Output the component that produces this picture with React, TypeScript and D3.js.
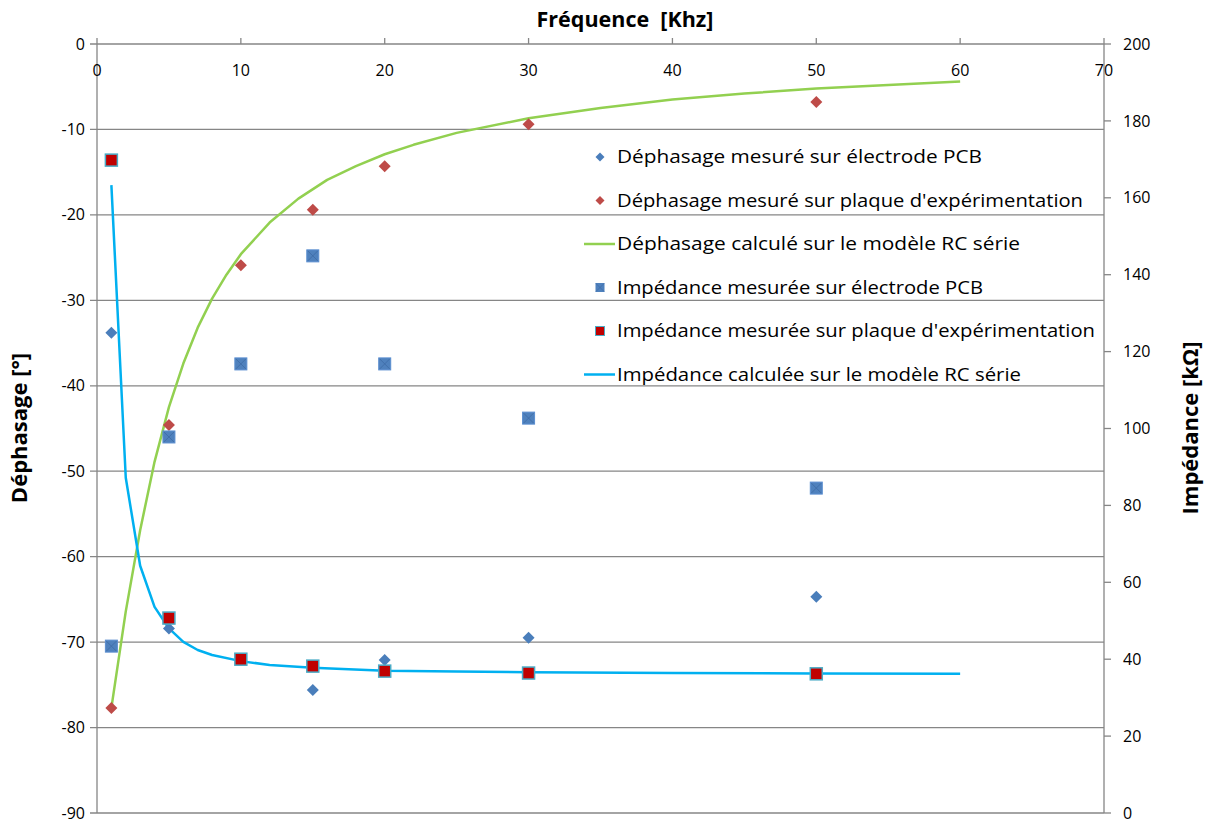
import React from 'react'
import * as d3 from 'd3'

// fréquences mesurées (kHz)
const freqMesure = [1, 5, 10, 15, 20, 30, 50]
const phasePCB = [-33.8, -68.4, -72.0, -75.6, -72.1, -69.5, -64.7]
const phasePlaque = [-77.7, -44.6, -25.9, -19.4, -14.3, -9.4, -6.8]
const impPCB = [43.4, 97.8, 116.8, 144.9, 116.8, 102.7, 84.5]
const impPlaque = [169.8, 50.7, 40.0, 38.2, 36.9, 36.4, 36.2]

// modèle RC série
const freqPhaseModele = [1, 2, 3, 4, 5, 6, 7, 8, 9, 10, 12, 14, 16, 18, 20, 22, 25, 30, 35, 40, 45, 50, 55, 60]
const phaseModele = [-77.7, -66.4, -56.9, -48.9, -42.5, -37.4, -33.2, -29.8, -27.0, -24.6, -20.9, -18.1, -15.9, -14.3, -12.9, -11.8, -10.4, -8.7, -7.5, -6.5, -5.8, -5.2, -4.8, -4.4]
const freqImpModele = [1, 2, 3, 4, 5, 6, 7, 8, 10, 12, 15, 20, 25, 30, 40, 50, 60]
const impModele = [163.3, 87.2, 64.3, 53.6, 48.0, 44.5, 42.4, 41.1, 39.5, 38.5, 37.8, 37.0, 36.8, 36.6, 36.4, 36.3, 36.2]

const xTicks = [0, 10, 20, 30, 40, 50, 60, 70]
const yLeftTicks = [0, -10, -20, -30, -40, -50, -60, -70, -80, -90]
const yRightTicks = [0, 20, 40, 60, 80, 100, 120, 140, 160, 180, 200]

const legendLabels = [
  "Déphasage mesuré sur électrode PCB",
  "Déphasage mesuré sur plaque d'expérimentation",
  "Déphasage calculé sur le modèle RC série",
  "Impédance mesurée sur électrode PCB",
  "Impédance mesurée sur plaque d'expérimentation",
  "Impédance calculée sur le modèle RC série",
]

const W = 1210, H = 823
const m = {top: 44, right: 106, bottom: 10, left: 97}
const font = "'Open Sans', sans-serif"
const grid = '#868686'

const blue = '#4A7EBB', red = '#BE4B48', green = '#92D050', cyan = '#00B0F0'

const Diamond = ({x, y, c}: {x: number, y: number, c: string}) =>
  <path d={`M${x},${y - 6}L${x + 6},${y}L${x},${y + 6}L${x - 6},${y}Z`} fill={c} />

const SquarePCB = ({x, y}: {x: number, y: number}) => <g>
  <rect x={x - 6} y={y - 6} width={12} height={12} fill="#4F81BD" stroke="#5B8ED0" strokeWidth={1} />
  <path d={`M${x - 5},${y - 5}L${x + 5},${y + 5}M${x + 5},${y - 5}L${x - 5},${y + 5}`} stroke="#3E6BA6" strokeWidth={0.8} />
</g>

const SquarePlaque = ({x, y}: {x: number, y: number}) =>
  <rect x={x - 6} y={y - 6} width={12} height={12} fill="#C00000" stroke="#4BACC6" strokeWidth={1.5} />

const App = () => {
  const x = d3.scaleLinear().domain([0, 70]).range([m.left, W - m.right])
  const yL = d3.scaleLinear().domain([-90, 0]).range([H - m.bottom, m.top])
  const yR = d3.scaleLinear().domain([0, 200]).range([H - m.bottom, m.top])

  const phaseLine = d3.line<number>().x((d, i) => x(freqPhaseModele[i])).y(d => yL(d))
  const impLine = d3.line<number>().x((d, i) => x(freqImpModele[i])).y(d => yR(d))

  const x0 = x(0), x1 = x(70)
  const legX = 600, legY0 = 157, legDy = 43.5

  return (
    <div style={{position: 'absolute', left: 0, top: 0}}>
      <svg width={W} height={H} style={{display: 'block', background: '#fff'}} fontFamily={font}>
        {/* grille horizontale */}
        {yLeftTicks.map(t => <g key={t}>
          <line x1={x0 - 7} x2={x1} y1={yL(t)} y2={yL(t)} stroke={grid} strokeWidth={1.3} />
          <text x={x0 - 12} y={yL(t)} dy="0.35em" textAnchor="end" fontSize={16}>{t}</text>
        </g>)}
        {/* axe gauche */}
        <line x1={x0} x2={x0} y1={yL(0)} y2={yL(-90)} stroke={grid} strokeWidth={1.3} />
        {/* axe droit */}
        <line x1={x1} x2={x1} y1={yR(200)} y2={yR(0)} stroke={grid} strokeWidth={1.3} />
        {yRightTicks.map(t => <g key={t}>
          <line x1={x1} x2={x1 + 7} y1={yR(t)} y2={yR(t)} stroke={grid} strokeWidth={1.3} />
          <text x={x1 + 19} y={yR(t)} dy="0.35em" textAnchor="start" fontSize={16}>{t}</text>
        </g>)}
        {/* axe x en haut */}
        {xTicks.map(t => <g key={t}>
          <line x1={x(t)} x2={x(t)} y1={m.top - 6} y2={m.top} stroke={grid} strokeWidth={1.3} />
          <text x={x(t)} y={70} dy="0.35em" textAnchor="middle" fontSize={16}>{t}</text>
        </g>)}

        {/* titres */}
        <text x={625} y={19} dy="0.35em" textAnchor="middle" fontSize={21.5} fontWeight="bold" style={{whiteSpace: 'pre'}}>Fréquence  [Khz]</text>
        <text transform={`translate(19,428) rotate(-90)`} dy="0.35em" textAnchor="middle" fontSize={22} fontWeight="bold">Déphasage [°]</text>
        <text transform={`translate(1190,428) rotate(-90)`} dy="0.35em" textAnchor="middle" fontSize={22} fontWeight="bold">Impédance [kΩ]</text>

        {/* courbes du modèle */}
        <path d={phaseLine(phaseModele) || ''} fill="none" stroke={green} strokeWidth={2.5} strokeLinejoin="round" />
        <path d={impLine(impModele) || ''} fill="none" stroke={cyan} strokeWidth={2.5} strokeLinejoin="round" />

        {/* mesures */}
        {phasePCB.map((v, i) => <Diamond key={'pp' + i} x={x(freqMesure[i])} y={yL(v)} c={blue} />)}
        {phasePlaque.map((v, i) => <Diamond key={'pl' + i} x={x(freqMesure[i])} y={yL(v)} c={red} />)}
        {impPCB.map((v, i) => <SquarePCB key={'ip' + i} x={x(freqMesure[i])} y={yR(v)} />)}
        {impPlaque.map((v, i) => <SquarePlaque key={'il' + i} x={x(freqMesure[i])} y={yR(v)} />)}

        {/* légende */}
        {legendLabels.map((lab, i) => {
          const ly = legY0 + i * legDy
          let mark
          if (i === 0) mark = <path d={`M${legX},${ly - 4.5}L${legX + 4.5},${ly}L${legX},${ly + 4.5}L${legX - 4.5},${ly}Z`} fill={blue} />
          else if (i === 1) mark = <path d={`M${legX},${ly - 4.5}L${legX + 4.5},${ly}L${legX},${ly + 4.5}L${legX - 4.5},${ly}Z`} fill={red} />
          else if (i === 2) mark = <line x1={legX - 16} x2={legX + 15} y1={ly} y2={ly} stroke={green} strokeWidth={2.5} />
          else if (i === 3) mark = <g>
            <rect x={legX - 4.5} y={ly - 4.5} width={9} height={9} fill="#4F81BD" />
            <path d={`M${legX - 4},${ly - 4}L${legX + 4},${ly + 4}M${legX + 4},${ly - 4}L${legX - 4},${ly + 4}`} stroke="#3E6BA6" strokeWidth={0.7} />
          </g>
          else if (i === 4) mark = <rect x={legX - 4.5} y={ly - 4.5} width={9} height={9} fill="#C00000" stroke="#4BACC6" strokeWidth={1} />
          else mark = <line x1={legX - 16} x2={legX + 15} y1={ly} y2={ly} stroke={cyan} strokeWidth={2.5} />
          return <g key={lab}>
            {mark}
            <text x={legX + 17} y={ly} dy="0.35em" fontSize={17.5} textLength={[365, 466, 403, 366, 478, 404][i]} lengthAdjust="spacingAndGlyphs">{lab}</text>
          </g>
        })}
      </svg>
    </div>
  )
}

export default App
